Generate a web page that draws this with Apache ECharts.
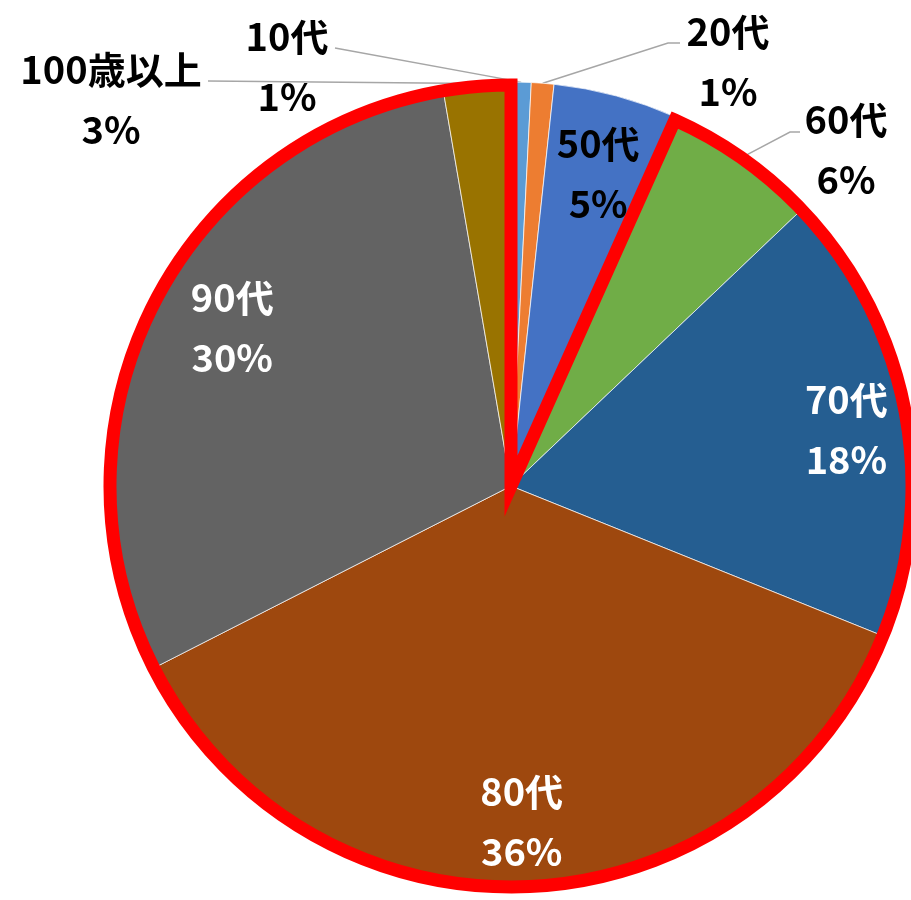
<!DOCTYPE html>
<html><head><meta charset="utf-8">
<script src="https://cdn.jsdelivr.net/npm/echarts@6/dist/echarts.min.js"></script>
<style>html,body{margin:0;padding:0;background:#fff}#c{width:911px;height:900px}</style>
</head><body><div id="c"></div>
<script>
const categories = ['10代', '20代', '50代', '60代', '70代', '80代', '90代', '100歳以上'];
const values = [0.8, 0.9, 5.0, 6.2, 18.2, 36.4, 29.8, 2.7];
const colors = ['#5B9BD5', '#ED7D31', '#4472C4', '#70AD47', '#255E91', '#9E480E', '#636363', '#997300'];
const outsideCats = ['10代', '20代', '60代', '100歳以上'];
const darkInsideCats = ['50代'];
const outlinedCats = ['60代', '70代', '80代', '90代', '100歳以上'];

// layout: text block centres for outside labels, leader bends, inside nudges
const outsidePos = {'10代': [287, 67], '20代': [728, 62], '60代': [846, 150], '100歳以上': [111, 100]};
const leaderBends = {'10代': [[335, 48]], '20代': [[680, 43], [668, 43]], '60代': [[800, 132], [790, 132]], '100歳以上': [[208, 81]]};
const insideNudge = {'50代': [0, 10], '70代': [7, 6], '80代': [-4, 2], '90代': [20, -9]};
const CX = 511, CY = 486, R = 404;
const FONT = '"Noto Sans CJK JP", "Noto Sans", sans-serif';

const chart = echarts.init(document.getElementById('c'), null, {renderer: 'canvas'});

const mainData = categories.map((c, i) => ({
  name: c, value: values[i],
  itemStyle: {color: colors[i]},
  label: {show: outsideCats.includes(c)},
  labelLine: {show: outsideCats.includes(c)}
}));
const ringData = categories.map((c, i) => ({
  name: c, value: values[i],
  label: {show: !outsideCats.includes(c), color: darkInsideCats.includes(c) ? '#000' : '#fff'}
}));
let inner = 0, outer = 0;
categories.forEach((c, i) => { if (outlinedCats.includes(c)) outer += values[i]; else inner += values[i]; });

chart.setOption({
  animation: false,
  series: [
    {
      type: 'pie', center: [CX, CY], radius: [0, R], startAngle: 90, clockwise: true,
      percentPrecision: 0, avoidLabelOverlap: false,
      itemStyle: {borderColor: 'rgba(255,255,255,0.7)', borderWidth: 1},
      label: {
        position: 'outside', formatter: '{b}\n{d}%', color: '#000',
        fontFamily: FONT, fontWeight: 'bold', fontSize: 38, lineHeight: 60
      },
      labelLine: {length: 20, length2: 10, lineStyle: {color: '#A6A6A6', width: 1.5}},
      labelLayout: function (p) {
        const name = categories[p.dataIndex];
        const pos = outsidePos[name];
        if (!pos) return {};
        const out = {x: pos[0], y: pos[1], align: 'center', verticalAlign: 'middle'};
        if (p.labelLinePoints && p.labelLinePoints.length) {
          out.labelLinePoints = leaderBends[name].concat([p.labelLinePoints[0]]);
        }
        return out;
      },
      emphasis: {disabled: true},
      data: mainData,
      z: 1
    },
    {
      type: 'pie', center: [CX, CY], radius: [R * 0.64, R], startAngle: 90, clockwise: true,
      percentPrecision: 0, silent: true,
      itemStyle: {color: 'rgba(0,0,0,0)'},
      label: {
        position: 'inside', formatter: '{b}\n{d}%',
        fontFamily: FONT, fontWeight: 'bold', fontSize: 38, lineHeight: 60
      },
      labelLine: {show: false},
      labelLayout: function (p) {
        const n = insideNudge[categories[p.dataIndex]];
        return n ? {dx: n[0], dy: n[1]} : {};
      },
      emphasis: {disabled: true},
      data: ringData,
      z: 3
    },
    {
      type: 'pie', center: [CX, CY], radius: [0, R - 3], startAngle: 90, clockwise: true,
      silent: true, label: {show: false}, labelLine: {show: false},
      emphasis: {disabled: true},
      data: [
        {value: inner, itemStyle: {color: 'rgba(0,0,0,0)', borderWidth: 0}},
        {value: outer, itemStyle: {color: 'rgba(0,0,0,0)', borderColor: '#FF0000', borderWidth: 13, borderJoin: 'miter', borderMiterLimit: 10}}
      ],
      z: 2
    }
  ]
});
</script></body></html>
